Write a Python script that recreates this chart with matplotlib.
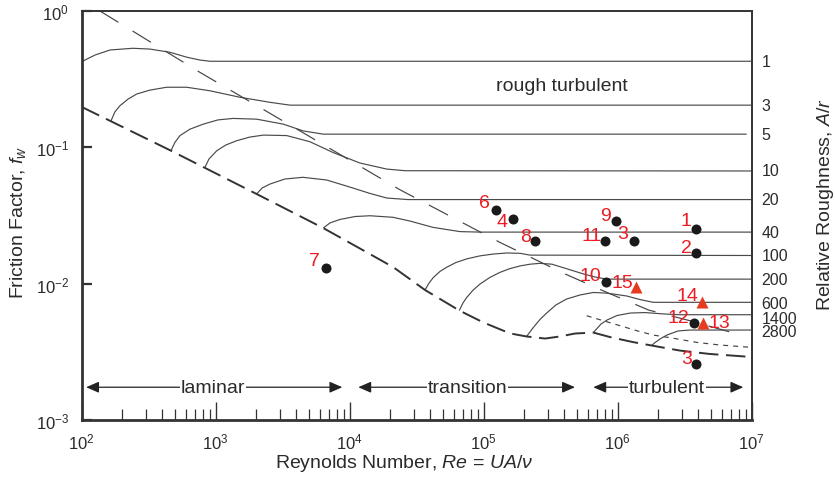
import matplotlib
matplotlib.use("Agg")
import matplotlib.pyplot as plt
from matplotlib.ticker import NullLocator
from matplotlib.transforms import blended_transform_factory

plt.rcParams.update({
    "font.family": ["Liberation Sans", "DejaVu Sans"],
    "mathtext.fontset": "custom",
    "mathtext.rm": "Liberation Sans",
    "mathtext.it": "Liberation Sans:italic",
    "mathtext.bf": "Liberation Sans:bold",
    "lines.scale_dashes": False,
})

INK = "#2b2b2b"
CURVE = "#4a4a4a"
RED = "#ED1C24"
TRI = "#E63B1F"

# lower envelope: laminar line turning into the smooth-turbulent limit
re_smooth = [100, 464, 2020, 6350, 13400, 21200, 36500, 65800, 98800, 157000,
             209000, 287000, 371000, 480000, 658000, 876000, 1.30e6, 1.79e6,
             2.92e6, 4.89e6, 1e7]
f_smooth = [0.198, 0.0945, 0.0455, 0.0256, 0.0170, 0.0132, 0.00899, 0.00636,
            0.00521, 0.00432, 0.00410, 0.00396, 0.00410, 0.00431, 0.00438,
            0.00406, 0.00373, 0.00352, 0.00323, 0.00305, 0.00290]

# friction factor curves, one per relative roughness A/r
re_r1 = [100, 126, 163, 241, 323, 456, 611, 763, 907, 1e7]
f_r1 = [0.425, 0.476, 0.518, 0.533, 0.526, 0.498, 0.458, 0.437, 0.428, 0.428]

re_r3 = [165, 177, 193, 222, 257, 323, 431, 608, 907, 1520, 2540, 3590, 1e7]
f_r3 = [0.155, 0.182, 0.202, 0.226, 0.246, 0.263, 0.276, 0.276, 0.260, 0.233,
        0.214, 0.204, 0.204]

re_r5 = [464, 497, 542, 643, 808, 1040, 1350, 2020, 3200, 4500, 6350, 9.18e6]
f_r5 = [0.0945, 0.109, 0.122, 0.136, 0.148, 0.159, 0.163, 0.161, 0.148, 0.132,
        0.125, 0.125]

re_r10 = [832, 891, 1020, 1190, 1440, 1800, 2270, 3390, 5050, 7510, 11900,
          18900, 25900, 1e7]
f_r10 = [0.0714, 0.0821, 0.0945, 0.104, 0.112, 0.119, 0.123, 0.122, 0.110,
         0.0917, 0.0768, 0.0693, 0.0674, 0.0671]

re_r20 = [2020, 2220, 2540, 3290, 4480, 6740, 10000, 14200, 18900, 27200, 1e7]
f_r20 = [0.0455, 0.0503, 0.0538, 0.0586, 0.0603, 0.0576, 0.0512, 0.0459,
         0.0425, 0.0414, 0.0414]

re_r40 = [6350, 7130, 8470, 11000, 14200, 21000, 28200, 41800, 66500, 93900, 1e7]
f_r40 = [0.0256, 0.0279, 0.0296, 0.0311, 0.0315, 0.0307, 0.0288, 0.0259,
         0.0241, 0.0239, 0.0239]

re_r100 = [36500, 39100, 42100, 47200, 53000, 62100, 74700, 93900, 118000,
           149000, 187000, 222000, 1e7]
f_r100 = [0.00899, 0.0101, 0.0111, 0.0123, 0.0132, 0.0143, 0.0152, 0.0160,
          0.0165, 0.0168, 0.0167, 0.0162, 0.0161]

re_r200 = [65800, 70000, 74700, 83600, 93900, 111000, 132000, 157000, 187000,
           222000, 263000, 323000, 393000, 554000, 677000, 828000, 1e7]
f_r200 = [0.00636, 0.00721, 0.00792, 0.00899, 0.00994, 0.0111, 0.0121, 0.0129,
          0.0135, 0.0139, 0.0141, 0.0139, 0.0131, 0.0118, 0.0112, 0.0108, 0.0108]

re_r600 = [209000, 233000, 263000, 295000, 346000, 416000, 523000, 658000,
           804000, 927000, 1.17e6, 1.47e6, 1.84e6, 1e7]
f_r600 = [0.00410, 0.00473, 0.00546, 0.00609, 0.00698, 0.00772, 0.00826,
          0.00862, 0.00854, 0.00840, 0.00812, 0.00765, 0.00730, 0.00730]

re_r1400 = [658000, 701000, 751000, 832000, 988000, 1.24e6, 1.60e6, 2.25e6,
            2.92e6, 1e7]
f_r1400 = [0.00438, 0.00469, 0.00506, 0.00541, 0.00584, 0.00609, 0.00614,
           0.00599, 0.00592, 0.00592]

re_r2800 = [1.79e6, 1.90e6, 2.07e6, 2.33e6, 2.82e6, 3.46e6, 1e7]
f_r2800 = [0.00352, 0.00370, 0.00393, 0.00420, 0.00450, 0.00457, 0.00457]

roughness_labels = ["1", "3", "5", "10", "20", "40", "100", "200", "600",
                    "1400", "2800"]

# boundary of the rough turbulent regime
re_rough = [137, 763, 4260, 23700, 132000, 404000, 828000, 1.70e6, 3.46e6, 8.18e6]
f_rough = [1.0, 0.355, 0.132, 0.0489, 0.0201, 0.0118, 0.00864, 0.00641,
           0.00535, 0.00422]

# short-dashed smooth turbulent branch
re_short = [587000, 781000, 1.04e6, 1.39e6, 1.84e6, 2.60e6, 3.89e6, 5.80e6, 1e7]
f_short = [0.00582, 0.00535, 0.00492, 0.00452, 0.00420, 0.00398, 0.00371,
           0.00355, 0.00341]

# measured points
circle_labels = ["1", "2", "3", "3", "4", "6", "7", "8", "9", "10", "11", "12"]
circle_re = [3.84e6, 3.84e6, 1.32e6, 3.84e6, 1.66e5, 1.24e5, 6.66e3, 2.43e5,
             9.80e5, 8.18e5, 8.11e5, 3.74e6]
circle_f = [0.0252, 0.0168, 0.0205, 0.00258, 0.0297, 0.0349, 0.0130, 0.0205,
            0.0290, 0.0103, 0.0205, 0.00515]

tri_labels = ["13", "14", "15"]
tri_re = [4.33e6, 4.29e6, 1.36e6]
tri_f = [0.00519, 0.00730, 0.00940]

# label offsets in points (dx, dy) from each marker
circle_offsets = [(-3.6, 6.0), (-3.1, 4.1), (-4.1, 5.3), (-3.1, 3.8),
                  (-4.3, -1.6), (-4.8, 5.3), (-4.3, 5.3), (-3.3, 3.5),
                  (-4.0, 3.6), (-3.1, 4.5), (-2.7, 4.0), (-3.7, 4.1)]
tri_offsets = [(3.8, 0.0), (-3.0, 4.8), (-1.6, 3.6)]

# vertical nudges (points) for the crowded roughness labels
roughness_nudge = [0, 0, 0, 0, 0, 0, 0, 0, -0.5, -2.4, -1.1]

# flow regimes along the bottom
regime_names = ["laminar", "transition", "turbulent"]
regime_start = [108, 11600, 658000]
regime_end = [8810, 480000, 8.66e6]
regime_mid = [960, 75700, 2.33e6]
regime_f = 0.00174

x_major = [1e2, 1e3, 1e4, 1e5, 1e6, 1e7]
x_major_labels = [r"$10^{2}$", r"$10^{3}$", r"$10^{4}$", r"$10^{5}$",
                  r"$10^{6}$", r"$10^{7}$"]
y_major = [1e-3, 1e-2, 1e-1, 1e0]
y_major_labels = [r"$10^{-3}$", r"$10^{-2}$", r"$10^{-1}$", r"$10^{0}$"]

fig = plt.figure(figsize=(8.35, 4.81), dpi=100)
ax = fig.add_axes([0.0978, 0.1247, 0.8024, 0.8503])
ax.set_xscale("log")
ax.set_yscale("log")
ax.set_xlim(1e2, 1e7)
ax.set_ylim(1e-3, 1e0)

curves = [
    (re_r1, f_r1), (re_r3, f_r3), (re_r5, f_r5), (re_r10, f_r10),
    (re_r20, f_r20), (re_r40, f_r40), (re_r100, f_r100), (re_r200, f_r200),
    (re_r600, f_r600), (re_r1400, f_r1400), (re_r2800, f_r2800),
]
for re_vals, f_vals in curves:
    ax.plot(re_vals, f_vals, color=CURVE, lw=0.85, solid_joinstyle="round",
            solid_capstyle="butt")

ax.plot(re_smooth, f_smooth, color="#333333", lw=1.4, dashes=(14, 5.5))
ax.plot(re_rough, f_rough, color="#444444", lw=0.85, dashes=(15.5, 12))
ax.plot(re_short, f_short, color="#444444", lw=0.85, dashes=(3.6, 3.6))

# points
ax.plot(circle_re, circle_f, "o", color="#1a1a1a", ms=7.2, mec="none")
ax.plot(tri_re, tri_f, "^", color=TRI, ms=8.8, mec="none")
for lab, x, y, off in zip(circle_labels, circle_re, circle_f, circle_offsets):
    ax.annotate(lab, (x, y), xytext=off, textcoords="offset points",
                ha="right", va="center", color=RED, fontsize=14)
for lab, x, y, off in zip(tri_labels, tri_re, tri_f, tri_offsets):
    ax.annotate(lab, (x, y), xytext=off, textcoords="offset points",
                ha="left" if off[0] > 0 else "right", va="center",
                color=RED, fontsize=14)

# regime arrows
for name, x0, x1, xm in zip(regime_names, regime_start, regime_end, regime_mid):
    ax.annotate("", xy=(x1, regime_f), xytext=(x0, regime_f),
                arrowprops=dict(arrowstyle="<|-|>,head_length=0.55,head_width=0.24",
                                mutation_scale=14, color="#222222", lw=0.9,
                                shrinkA=0, shrinkB=0))
    ax.text(xm, regime_f, name, ha="center", va="center", fontsize=14,
            color=INK, bbox=dict(facecolor="white", edgecolor="none", pad=0.6))

ax.text(3.82e5, 0.265, "rough turbulent", ha="center", va="baseline",
        fontsize=14, color=INK)

# roughness values on the right side, level with each plateau
edge = blended_transform_factory(ax.transAxes, ax.transData)
for lab, (re_vals, f_vals), dy in zip(roughness_labels, curves, roughness_nudge):
    ax.annotate(lab, (1.0, f_vals[-1]), xycoords=edge, xytext=(7, dy),
                textcoords="offset points", ha="left", va="center",
                fontsize=11.5, color=INK, annotation_clip=False)

# axes styling
for side in ["left", "bottom"]:
    ax.spines[side].set_linewidth(2.0)
for side in ["top", "right"]:
    ax.spines[side].set_linewidth(1.4)
for sp in ax.spines.values():
    sp.set_color("#333333")

ax.set_xticks(x_major, x_major_labels)
ax.set_yticks(y_major, y_major_labels)
ax.yaxis.set_minor_locator(NullLocator())
ax.tick_params(axis="x", which="major", direction="in", length=12.7, width=1.0,
               color="#333333", labelsize=12, pad=8, labelcolor=INK)
ax.tick_params(axis="x", which="minor", direction="in", length=7.9, width=0.9,
               color="#333333")
ax.tick_params(axis="y", which="major", direction="in", length=7, width=1.6,
               color="#333333", labelsize=12, pad=9, labelcolor=INK)

ax.set_xlabel(r"Reynolds Number, $Re$ = $UA/\nu$", fontsize=14, color=INK,
              va="top")
ax.xaxis.set_label_coords(0.481, -0.077)
fig.text(18 / 835, 0.538, r"Friction Factor, $f_w$", rotation=90, ha="center",
         va="center", fontsize=14, color=INK)
fig.text(826 / 835, 0.574, r"Relative Roughness, $A/r$", rotation=90,
         ha="center", va="center", fontsize=14, color=INK)

fig.savefig("out.png", dpi=100)
